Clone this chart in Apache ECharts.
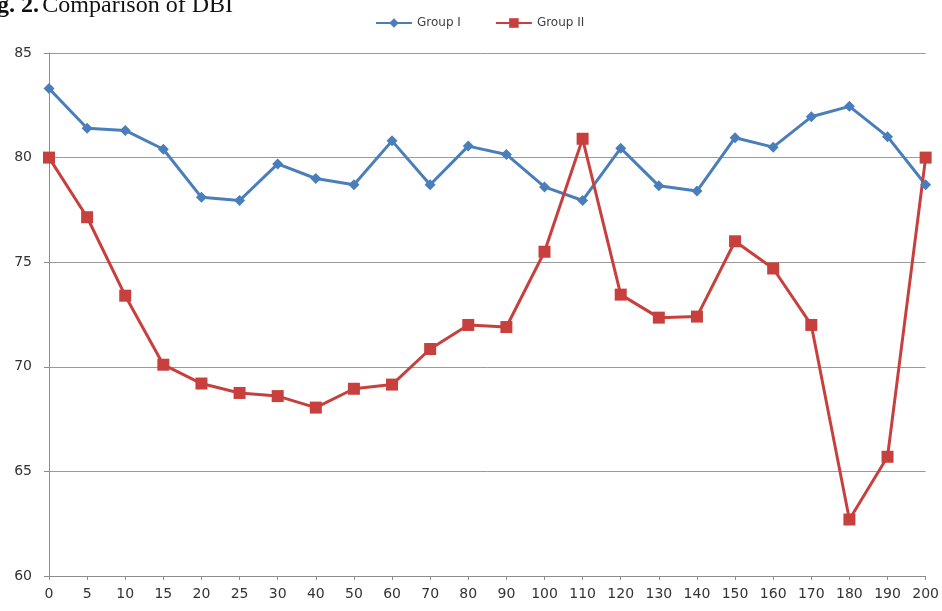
<!DOCTYPE html>
<html>
<head>
<meta charset="utf-8">
<script src="https://cdn.jsdelivr.net/npm/echarts@6/dist/echarts.min.js"></script>
<style>html,body{margin:0;padding:0;background:#fff;}#c{width:942px;height:611px;}</style>
</head>
<body>
<div id="c"></div>
<script>
const categories = ['0','5','10','15','20','25','30','40','50','60','70','80','90','100','110','120','130','140','150','160','170','180','190','200'];
const groupI  = [83.3, 81.4, 81.3, 80.4, 78.1, 77.95, 79.7, 79.0, 78.7, 80.8, 78.7, 80.55, 80.15, 78.6, 77.95, 80.45, 78.65, 78.4, 80.95, 80.5, 81.95, 82.45, 81.0, 78.7];
const groupII = [80.0, 77.15, 73.4, 70.1, 69.2, 68.75, 68.6, 68.05, 68.95, 69.15, 70.85, 72.0, 71.9, 75.5, 80.9, 73.45, 72.35, 72.4, 76.0, 74.7, 72.0, 62.7, 65.7, 80.0];
const yTicks = { min: 60, max: 85, step: 5 };

const chart = echarts.init(document.getElementById('c'), null, { renderer: 'canvas' });
chart.setOption({
  animation: false,
  backgroundColor: '#ffffff',
  graphic: [{
    type: 'text', left: -3, top: -6,
    style: {
      text: '{b|g. 2.} {n|Comparison of DBI}',
      rich: {
        b: { fontFamily: 'Liberation Serif', fontWeight: 'bold', fontSize: 24, fill: '#111' },
        n: { fontFamily: 'Liberation Serif', fontSize: 24, fill: '#111' }
      }
    }
  }],
  legend: {
    left: 370, top: 12,
    itemWidth: 36, itemHeight: 12, itemGap: 34,
    textStyle: { fontFamily: 'DejaVu Sans', fontSize: 12, color: '#404040' },
    data: ['Group I', 'Group II']
  },
  grid: { left: 49, right: 15, top: 53, bottom: 35, containLabel: false },
  xAxis: {
    type: 'category', data: categories, boundaryGap: false,
    axisLine: { lineStyle: { color: '#8c8c8c', width: 1 } },
    axisTick: { show: true, length: 4, alignWithLabel: true, lineStyle: { color: '#8c8c8c' } },
    axisLabel: { margin: 11, interval: 0, fontFamily: 'DejaVu Sans', fontSize: 14, color: '#333' },
    splitLine: { show: false }
  },
  yAxis: {
    type: 'value', min: yTicks.min, max: yTicks.max, interval: yTicks.step,
    axisLine: { show: true, lineStyle: { color: '#8c8c8c', width: 1 } },
    axisTick: { show: true, length: 5, lineStyle: { color: '#8c8c8c' } },
    axisLabel: { margin: 17, fontFamily: 'DejaVu Sans', fontSize: 14, color: '#333' },
    splitLine: { show: true, lineStyle: { color: '#9a9a9a', width: 1 } }
  },
  series: [
    {
      name: 'Group I', type: 'line', data: groupI,
      symbol: 'diamond', symbolSize: 11,
      lineStyle: { color: '#4a7ebb', width: 3 },
      itemStyle: { color: '#4a7ebb' }
    },
    {
      name: 'Group II', type: 'line', data: groupII,
      symbol: 'rect', symbolSize: 12,
      lineStyle: { color: '#c8403d', width: 3 },
      itemStyle: { color: '#c8403d' }
    }
  ]
});
</script>
</body>
</html>
